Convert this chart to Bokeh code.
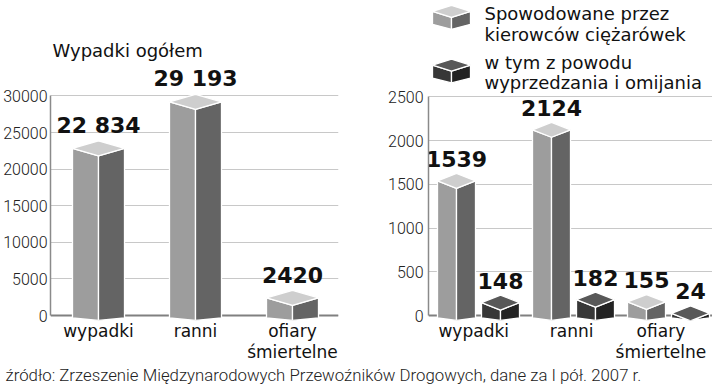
from bokeh.plotting import figure
from bokeh.models import Range1d, FixedTicker, Span, Label
from bokeh.layouts import column, row
from bokeh.embed import file_html
from bokeh.resources import INLINE
from bokeh.core.properties import value

# ---------------- data ----------------
categories = ["wypadki", "ranni", "ofiary\nśmiertelne"]
total_values = [22834, 29193, 2420]
total_labels = ["22 834", "29 193", "2420"]
truck_values = [1539, 2124, 155]
overtake_values = [148, 182, 24]
left_ticks = [0, 5000, 10000, 15000, 20000, 25000, 30000]
right_ticks = [0, 500, 1000, 1500, 2000, 2500]
title_text = "Wypadki ogółem"
legend_lines = [["Spowodowane przez", "kierowców ciężarówek"],
                ["w tym  z powodu", "wyprzedzania i omijania"]]
source_text = "źródło: Zrzeszenie Międzynarodowych Przewoźników Drogowych, dane za I pół. 2007 r."

# ---------------- style / layout (pixels) ----------------
LIGHT = dict(left="#9d9d9d", right="#646464", top="#cecece")
DARK = dict(left="#373737", right="#232323", top="#585858")
GRID = "#c8c8c8"
TICK_FONT = "Roboto Light"
CAT_FONT = "DejaVu Sans"

W_L, W_R = 372, 340
H_TOP, H_BOT = 364, 20
ZERO_PX = 317          # y of zero line
FRAME_BOTTOM = 322     # y of frame bottom
DEPTH = 7.5            # px, top slant
BOT_SIDE, BOT_CENTER = 2.5, 5.0   # px below zero


def box(xc, hw, ytop, d, ybs, ybc):
    left = ([xc - hw, xc, xc, xc - hw], [ytop, ytop - d, ybc, ybs])
    right = ([xc, xc + hw, xc + hw, xc], [ytop - d, ytop, ybs, ybc])
    top = ([xc - hw, xc, xc + hw, xc], [ytop, ytop + d, ytop, ytop - d])
    return left, right, top


def draw_boxes(p, xs, vals, hw, px_per_unit, colors):
    d = DEPTH / px_per_unit
    bs = -BOT_SIDE / px_per_unit
    bc = -BOT_CENTER / px_per_unit
    faces = {"left": ([], []), "right": ([], []), "top": ([], [])}
    for x, v in zip(xs, vals):
        l, r, t = box(x, hw, v, d, bs, bc)
        for key, f in zip(["left", "right", "top"], [l, r, t]):
            faces[key][0].append(f[0])
            faces[key][1].append(f[1])
    for key in ["left", "right", "top"]:
        p.patches(xs=faces[key][0], ys=faces[key][1], fill_color=colors[key],
                  line_color="white", line_width=1.3)


def style_common(p):
    p.outline_line_color = None
    p.xgrid.visible = False
    p.ygrid.grid_line_color = GRID
    p.ygrid.grid_line_width = 1
    p.yaxis.major_tick_line_color = None
    p.yaxis.minor_tick_line_color = None
    p.yaxis.major_tick_out = 0
    p.yaxis.major_tick_in = 0
    p.yaxis.axis_line_color = "#8a8a8a"
    p.yaxis.axis_line_width = 1.5
    p.yaxis.major_label_text_font = TICK_FONT
    p.yaxis.major_label_text_font_size = "16px"
    p.yaxis.major_label_text_color = "#222222"
    p.xaxis.axis_line_color = None
    p.xaxis.major_tick_line_color = None
    p.xaxis.minor_tick_line_color = None
    p.xaxis.major_tick_out = 0
    p.xaxis.major_tick_in = 0
    p.xaxis.major_label_text_font = CAT_FONT
    p.xaxis.major_label_text_font_size = "17px"
    p.xaxis.major_label_text_color = "#111111"
    p.xaxis.major_label_text_line_height = 1.05
    p.xaxis.major_label_standoff = 0
    p.add_layout(Span(location=0, dimension="width", line_color="#808080",
                      line_width=2, level="underlay"))


# ---------------- left panel ----------------
L_FRAME_LEFT, L_FRAME_RIGHT = 50, 338
L_PX = (ZERO_PX - 96) / 30000.0
L_XPX = 97.0
l_x0 = -(98 - L_FRAME_LEFT) / L_XPX
pl = figure(width=W_L, height=H_TOP, output_backend="svg", toolbar_location=None,
            x_range=Range1d(l_x0, l_x0 + (L_FRAME_RIGHT - L_FRAME_LEFT) / L_XPX),
            y_range=Range1d(-(FRAME_BOTTOM - ZERO_PX) / L_PX, ZERO_PX / L_PX),
            min_border_left=L_FRAME_LEFT, min_border_right=W_L - L_FRAME_RIGHT,
            min_border_top=0, min_border_bottom=H_TOP - FRAME_BOTTOM)
style_common(pl)
pl.yaxis.ticker = FixedTicker(ticks=left_ticks)
pl.ygrid.ticker = FixedTicker(ticks=left_ticks)
pl.yaxis.bounds = (left_ticks[0], left_ticks[-1])
pl.yaxis.major_label_standoff = 3
lx = list(range(len(categories)))
pl.xaxis.ticker = FixedTicker(ticks=lx)
pl.xaxis.major_label_overrides = {i: c for i, c in zip(lx, categories)}

draw_boxes(pl, lx, total_values, 26 / L_XPX, L_PX, LIGHT)
pl.text(x=lx, y=total_values, text=total_labels, text_align="center",
        text_baseline="middle", y_offset=-23, text_font=value(CAT_FONT),
        text_font_style="bold", text_font_size="22px", text_color="#111111")
pl.add_layout(Label(x=l_x0 + (52 - L_FRAME_LEFT) / L_XPX, y=(ZERO_PX - 50) / L_PX,
                    text=title_text, text_font=CAT_FONT, text_font_size="18px",
                    text_baseline="middle", text_align="left", text_color="#111111"))

# ---------------- right panel ----------------
R_FRAME_LEFT = 428 - W_L
R_PX = (ZERO_PX - 97) / 2500.0
R_XPX = 95.0
R_FIRST = 478
r_x0 = -(R_FIRST - 428) / R_XPX
pr = figure(width=W_R, height=H_TOP, output_backend="svg", toolbar_location=None,
            x_range=Range1d(r_x0, r_x0 + (W_R - R_FRAME_LEFT) / R_XPX),
            y_range=Range1d(-(FRAME_BOTTOM - ZERO_PX) / R_PX, ZERO_PX / R_PX),
            min_border_left=R_FRAME_LEFT, min_border_right=0,
            min_border_top=0, min_border_bottom=H_TOP - FRAME_BOTTOM)
style_common(pr)
pr.yaxis.ticker = FixedTicker(ticks=right_ticks)
pr.ygrid.ticker = FixedTicker(ticks=right_ticks)
pr.yaxis.bounds = (right_ticks[0], right_ticks[-1])
pr.yaxis.major_label_standoff = 5
label_shift = [-0.05, -0.02, -0.08]
rx = [i + s for i, s in enumerate(label_shift)]
pr.xaxis.ticker = FixedTicker(ticks=rx)
pr.xaxis.major_label_overrides = {x: c for x, c in zip(rx, categories)}

OFF = 22 / R_XPX
HW = 19 / R_XPX
xl = [i - OFF for i in range(len(categories))]
xd = [i + OFF for i in range(len(categories))]
draw_boxes(pr, xl, truck_values, HW, R_PX, LIGHT)
draw_boxes(pr, xd, overtake_values, HW, R_PX, DARK)
for xs_, vals in [(xl, truck_values), (xd, overtake_values)]:
    pr.text(x=xs_, y=vals, text=[str(v) for v in vals], text_align="center",
            text_baseline="middle", y_offset=-22, text_font=value(CAT_FONT),
            text_font_style="bold", text_font_size="22px", text_color="#111111")


def rxd(px):
    return r_x0 + (px - 428) / R_XPX


def ryd(py):
    return (ZERO_PX - py) / R_PX


# legend (icons + text)
for (lines, colors, top_y, text_y) in [(legend_lines[0], LIGHT, 5, 13),
                                       (legend_lines[1], DARK, 59, 62)]:
    d = 6 / R_PX
    l, r, t = box(rxd(451), 19 / R_XPX, ryd(top_y + 6), d, ryd(top_y + 19), ryd(top_y + 24))
    for f, key in zip([l, r, t], ["left", "right", "top"]):
        pr.patch(x=f[0], y=f[1], fill_color=colors[key], line_color="white", line_width=1.3)
    for k, line in enumerate(lines):
        pr.add_layout(Label(x=rxd(484), y=ryd(text_y + 21 * k), text=line,
                            text_font=CAT_FONT, text_font_size="18px",
                            text_baseline="middle", text_align="left",
                            text_color="#111111"))

# ---------------- source line ----------------
ps = figure(width=W_L + W_R, height=H_BOT, output_backend="svg", toolbar_location=None,
            x_range=Range1d(0, W_L + W_R), y_range=Range1d(0, H_BOT),
            min_border=0)
ps.axis.visible = False
ps.grid.visible = False
ps.outline_line_color = None
ps.text(x=[5], y=[H_BOT / 2], text=[source_text], text_align="left", text_baseline="middle",
        text_font=value(TICK_FONT), text_font_size="16.8px", text_color="#222222")

layout = column(row(pl, pr), ps)
open("out.html", "w").write(file_html(layout, INLINE))
